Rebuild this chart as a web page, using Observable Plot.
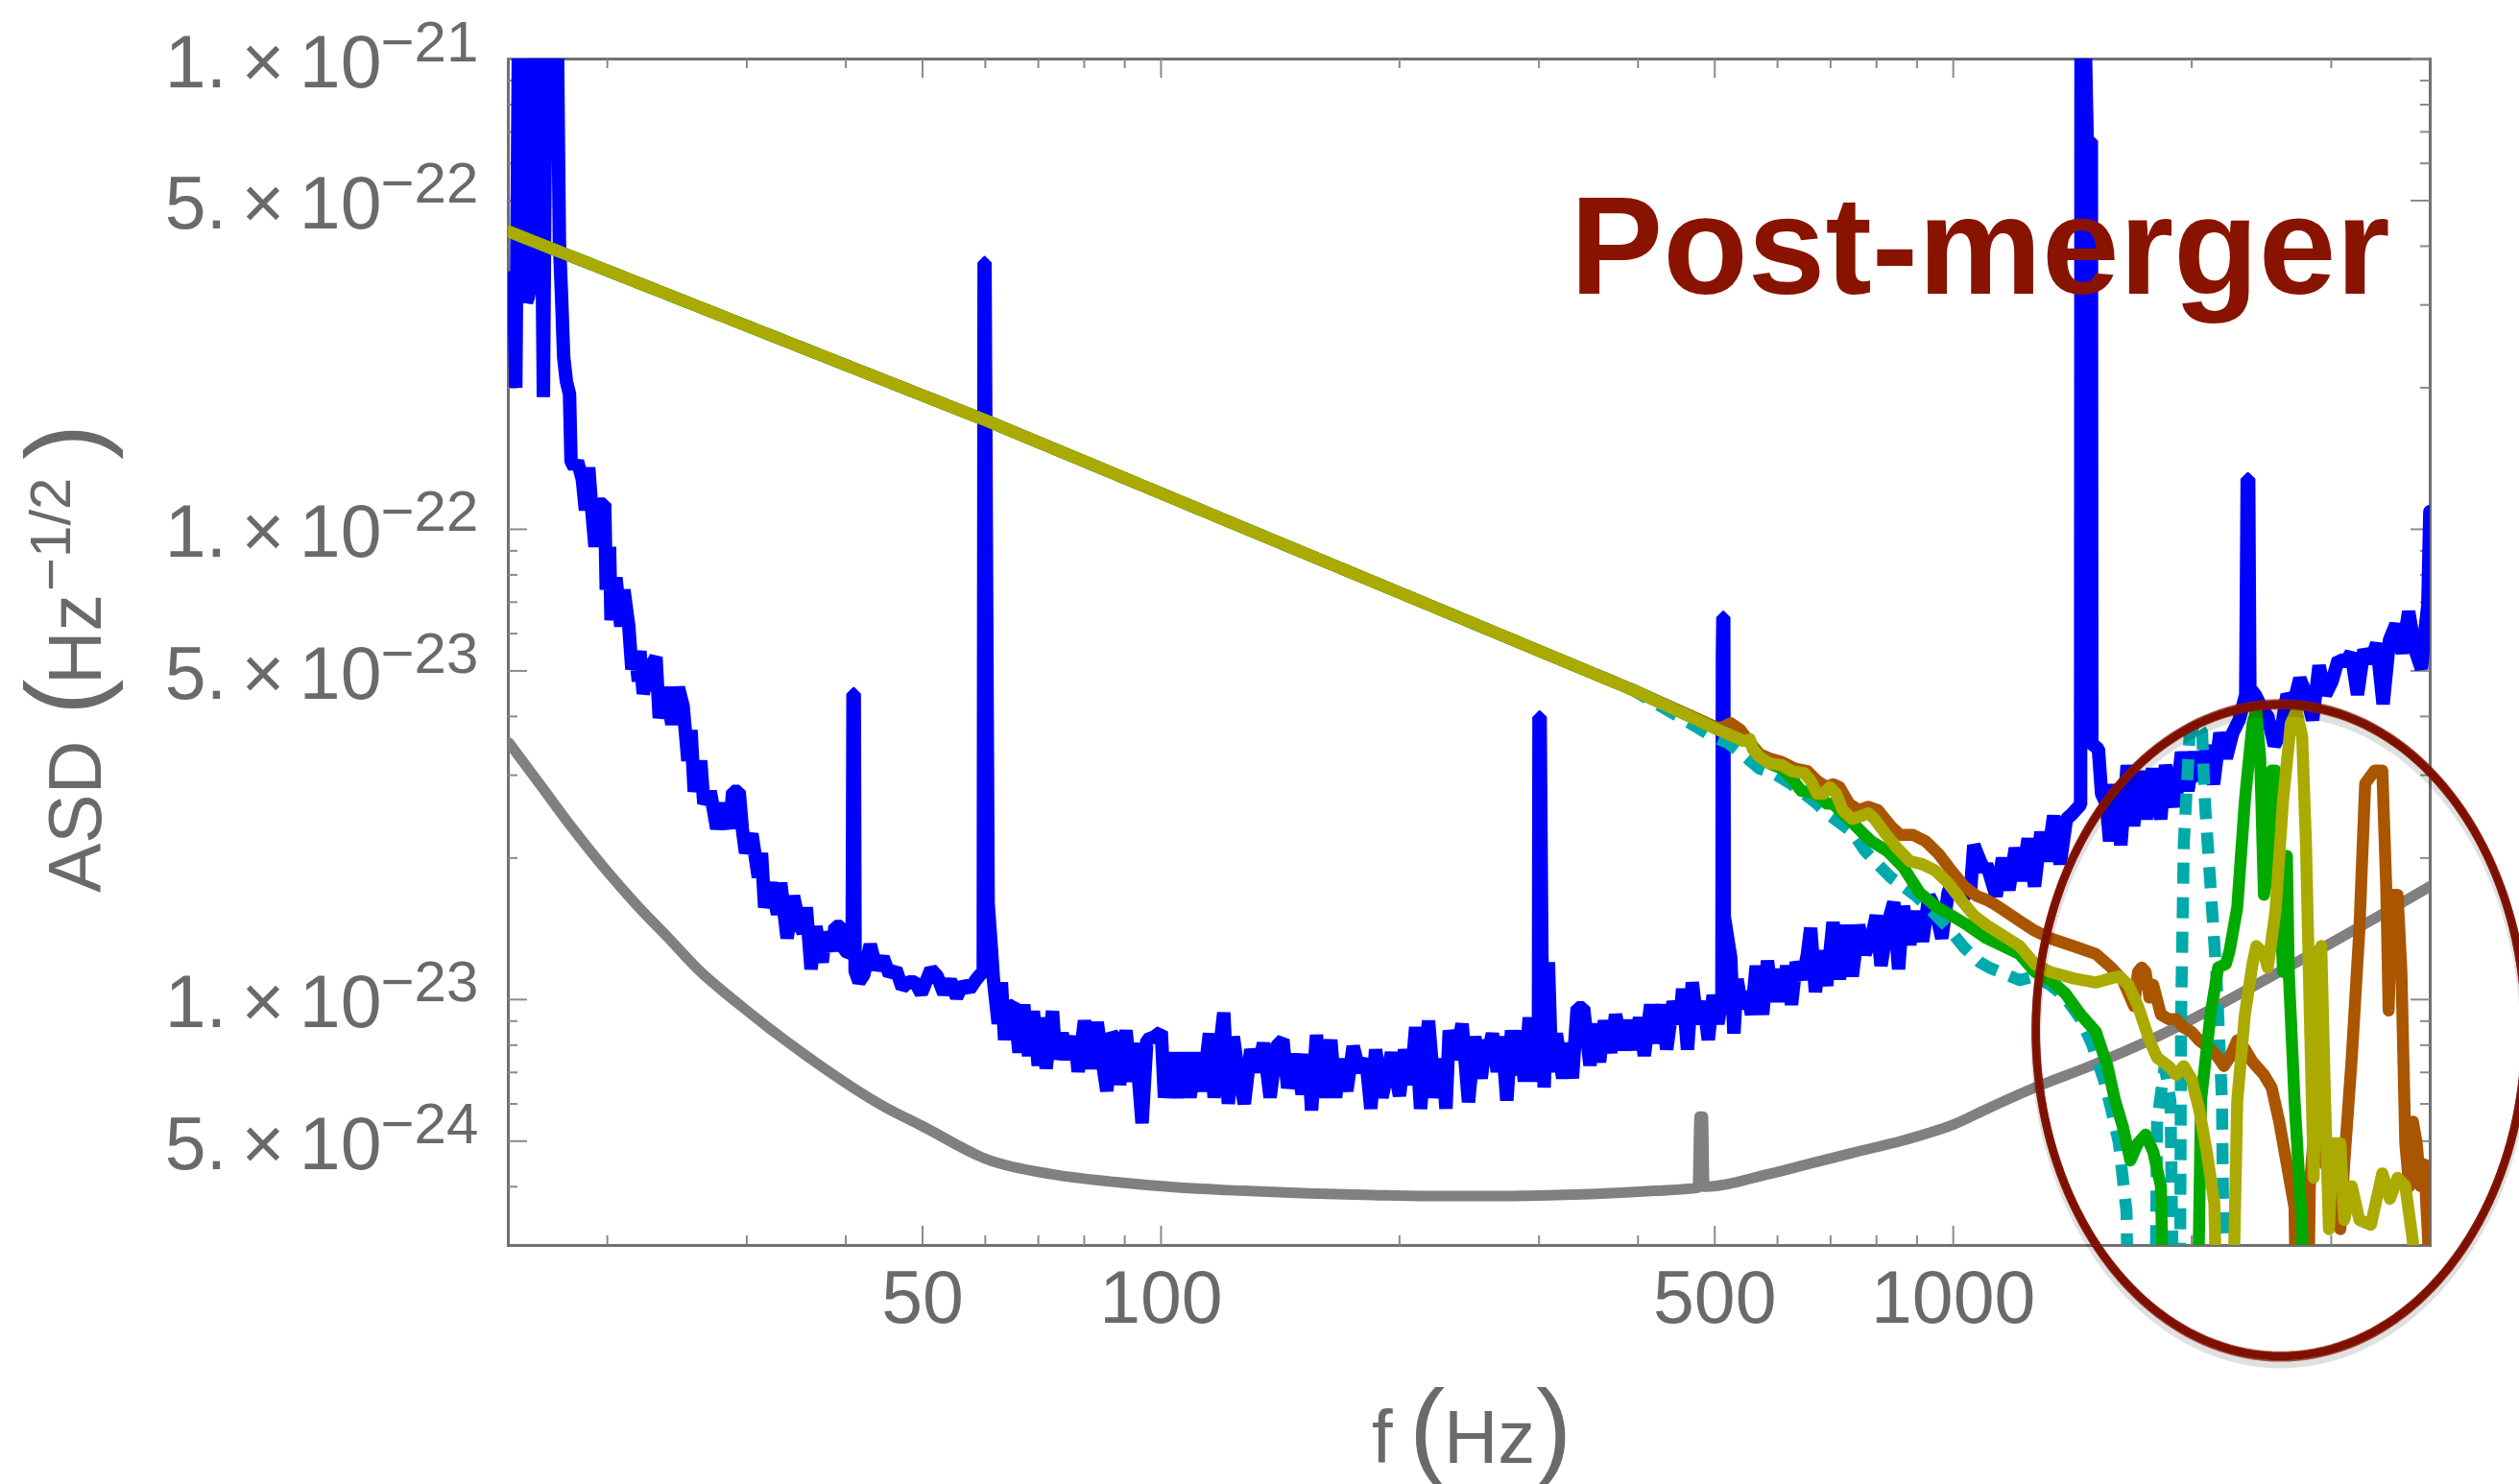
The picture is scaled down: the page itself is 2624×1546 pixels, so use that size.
<!DOCTYPE html>
<html>
<head>
<meta charset="utf-8">
<script src="https://cdn.jsdelivr.net/npm/d3@7"></script>
<script src="https://cdn.jsdelivr.net/npm/@observablehq/plot@0.6"></script>
<style>
  html, body { margin: 0; padding: 0; background: #ffffff; }
  #chart svg { display: block; }
</style>
</head>
<body>
<div id="chart"></div>
<script>
// ---------------- data (frequency in Hz, ASD in Hz^-1/2) ----------------
const xMajorTicks = [50, 100, 500, 1000];
const xMinorTicks = [20, 30, 40, 60, 70, 80, 90, 200, 300, 400, 600, 700, 800, 900, 2000, 3000];
const yMajorTicks = [1e-21, 5e-22, 1e-22, 5e-23, 1e-23, 5e-24];
const yMinorTicks = [9e-22, 8e-22, 7e-22, 6e-22, 4e-22, 3e-22, 2e-22,
                     9e-23, 8e-23, 7e-23, 6e-23, 4e-23, 3e-23, 2e-23,
                     9e-24, 8e-24, 7e-24, 6e-24, 4e-24];
const yTickMantissas = ["1.", "5.", "1.", "5.", "1.", "5."];
const yTickExponents = ["\u221221", "\u221222", "\u221222", "\u221223", "\u221223", "\u221224"];

// measured detector noise (blue)
const detectorNoise = [
[15.02,3.33e-22],[15.13,2.78e-22],[15.23,3.53e-22],[15.33,2.00e-22],[15.47,1.5e-21],[15.71,1.5e-21],[15.81,3.04e-22],[15.91,3.13e-22],[16.06,3.53e-22],[16.18,3.23e-22],[16.29,1.5e-21],[16.36,5.37e-22],[16.43,1.5e-21],[16.61,1.91e-22],[16.76,1.5e-21],[17.27,1.5e-21],[17.40,4.10e-22],[17.51,3.13e-22],[17.62,2.32e-22],[17.76,2.06e-22],[17.92,1.94e-22],[18.00,1.395e-22],[18.17,1.354e-22],[18.34,1.395e-22],[18.60,1.276e-22],[18.77,1.098e-22],[18.95,1.354e-22],[19.12,1.098e-22],[19.30,9.18e-23],[19.49,1.131e-22],[19.85,1.131e-22],[19.94,7.44e-23],[20.13,9.18e-23],[20.22,6.41e-23],[20.51,7.90e-23],[20.80,6.22e-23],[20.99,7.44e-23],[21.29,6.22e-23],[21.48,5.04e-23],[21.69,5.51e-23],[21.89,4.75e-23],[21.99,5.51e-23],[22.20,4.47e-23],[22.61,5.04e-23],[23.04,5.35e-23],[23.26,3.97e-23],[23.69,4.61e-23],[24.13,3.85e-23],[24.59,4.61e-23],[24.93,4.21e-23],[25.28,3.22e-23],[25.51,3.74e-23],[25.75,2.77e-23],[26.24,3.22e-23],[26.48,2.61e-23],[26.98,2.77e-23],[27.49,2.31e-23],[28.01,2.61e-23],[28.53,2.31e-23],[28.80,2.77e-23],[29.34,2.77e-23],[29.61,2.31e-23],[29.89,2.05e-23],[30.45,2.25e-23],[31.02,1.82e-23],[31.31,2.05e-23],[31.60,1.57e-23],[32.19,1.77e-23],[32.80,1.52e-23],[33.11,1.77e-23],[33.73,1.35e-23],[34.36,1.66e-23],[35.01,1.43e-23],[35.33,1.39e-23],[35.67,1.57e-23],[36.16,1.16e-23],[36.67,1.43e-23],[37.36,1.20e-23],[37.71,1.39e-23],[38.41,1.27e-23],[38.77,1.43e-23],[39.50,1.43e-23],[39.86,1.27e-23],[40.75,1.25e-23],[40.85,4.47e-23],[41.0,4.47e-23],[41.1,1.15e-23],[41.57,1.09e-23],[42.16,1.13e-23],[42.95,1.31e-23],[43.75,1.16e-23],[44.58,1.23e-23],[45.41,1.13e-23],[46.27,1.16e-23],[47.13,1.06e-23],[48.02,1.09e-23],[48.91,1.09e-23],[49.83,1.03e-23],[51.24,1.16e-23],[52.20,1.12e-23],[53.19,1.03e-23],[54.2,1.1e-23],[55.20,1.01e-23],[56.2,1.08e-23],[57.29,1.05e-23],[58.36,1.10e-23],[59.65,1.15e-23],[59.8,3.69e-22],[59.95,3.69e-22],[60.5,1.6e-23],[61.1,1.27e-23],[61.43,1.105e-23],
[62.30,8.88e-24],[62.88,1.088e-23],[63.47,8.21e-24],[64.06,9.60e-24],[65.26,9.75e-24],[66.18,7.71e-24],[67.10,9.75e-24],[68.05,7.59e-24],[69.00,9.45e-24],[69.98,7.24e-24],[70.96,9.16e-24],[71.61,7.13e-24],[72.95,9.45e-24],[73.64,7.47e-24],[75.02,8.47e-24],[76.43,7.47e-24],[77.86,8.34e-24],[78.59,7.02e-24],[80.05,9.02e-24],[81.55,7.13e-24],[83.08,8.95e-24],[84.25,7.47e-24],[85.43,6.39e-24],[86.63,8.47e-24],[87.85,8.21e-24],[88.66,6.59e-24],[90.33,8.60e-24],[91.62,6.70e-24],[92.90,8.08e-24],[94.64,5.46e-24],[95.98,8.21e-24],[98.22,8.34e-24],[100.07,8.54e-24],[101.0,6.19e-24],[102.9,7.71e-24],[104.8,6.19e-24],[106.8,7.71e-24],[108.8,6.19e-24],[110.8,7.71e-24],[112.9,6.39e-24],[115.1,8.47e-24],[116.7,6.19e-24],[120.0,9.38e-24],[121.6,6.00e-24],[123.4,8.34e-24],[125.1,7.02e-24],[127.4,6.00e-24],[129.8,7.83e-24],[132.3,7.02e-24],[134.7,8.08e-24],[137.3,6.19e-24],[139.9,7.96e-24],[142.5,8.21e-24],[144.5,6.49e-24],[147.9,7.65e-24],[150.7,6.29e-24],[153.5,7.65e-24],[154.9,5.81e-24],[157.1,8.41e-24],[160.0,6.19e-24],[163.8,8.21e-24],[166.1,6.19e-24],[168.4,7.47e-24],[171.6,6.39e-24],[174.8,7.96e-24],[178.1,7.02e-24],[181.4,7.47e-24],[184.0,5.86e-24],[186.6,7.83e-24],[190.1,6.19e-24],[195.4,7.71e-24],[200.0,6.24e-24],[202.9,7.83e-24],[206.7,6.59e-24],[209.6,8.74e-24],[212.6,5.86e-24],[217.6,9.02e-24],[221.6,6.19e-24],[226.8,7.47e-24],[228.9,5.86e-24],[231.1,8.60e-24],[235.4,7.47e-24],[239.9,8.88e-24],[244.4,6.05e-24],[248.9,8.34e-24],[253.6,6.80e-24],[257.1,8.21e-24],
[258.4,7.59e-24],[262.0,8.47e-24],[265.7,7.02e-24],[269.4,8.34e-24],[273.2,6.10e-24],[277.0,8.60e-24],[280.9,6.91e-24],[283.5,8.60e-24],[287.5,6.70e-24],[291.6,9.16e-24],[295.6,6.70e-24],[299.5,8.0e-24],[300.0,3.99e-23],[301.0,3.99e-23],[302.5,1.25e-23],[304.5,6.5e-24],[308.3,1.20e-23],[311.2,7.02e-24],[315.5,8.47e-24],[321.4,6.80e-24],[326.0,8.08e-24],[330.6,6.80e-24],[335.2,9.60e-24],[341.5,9.60e-24],[347.9,7.24e-24],[352.8,8.88e-24],[357.7,7.36e-24],[362.8,9.02e-24],[369.5,7.71e-24],[374.8,9.30e-24],[381.8,7.83e-24],[388.9,9.02e-24],[396.2,7.83e-24],[401.8,9.16e-24],[407.4,7.59e-24],[415.0,9.75e-24],[420.9,8.08e-24],[428.8,9.75e-24],[434.8,7.83e-24],[443.0,9.90e-24],[451.3,8.88e-24],[455.5,1.054e-23],[461.9,7.83e-24],[468.4,1.088e-23],[475.0,8.88e-24],[483.9,9.90e-24],[490.7,8.21e-24],[497.6,1.022e-23],[504.6,8.88e-24],[510.5,1.0e-23],[511.3,5.4e-23],[512.0,6.5e-23],[513.2,6.5e-23],[514.0,1.5e-23],[523.7,1.23e-23],[528.6,8.47e-24],[533.5,1.105e-23],[541.0,9.60e-24],[548.6,1.038e-23],[556.4,9.30e-24],[564.1,1.18e-23],[574.7,9.30e-24],[582.8,1.21e-23],[591.0,9.90e-24],[599.3,1.16e-23],[607.6,9.90e-24],[616.2,1.18e-23],[624.9,9.75e-24],[633.6,1.20e-23],[645.5,1.105e-23],[654.6,1.25e-23],[660.7,1.42e-23],[669.9,1.038e-23],[679.4,1.27e-23],[692.2,1.071e-23],[705.1,1.46e-23],[718.4,1.105e-23],[731.9,1.44e-23],[745.6,1.12e-23],[759.6,1.44e-23],[773.9,1.25e-23],[788.4,1.35e-23],[799.5,1.51e-23],[810.7,1.18e-23],[825.9,1.44e-23],[841.4,1.61e-23],[853.1,1.16e-23],[865.1,1.58e-23],[881.3,1.31e-23],[897.9,1.54e-23],[914.7,1.33e-23],[931.9,1.66e-23],[949.4,1.56e-23],[967.2,1.35e-23],[985.4,1.69e-23],[1003.8,1.82e-23],[1032.3,1.66e-23],[1051.7,1.71e-23],[1061.5,2.13e-23],[1081.4,1.97e-23],[1096.6,1.88e-23],
[1101.6,1.94e-23],[1132.8,1.66e-23],[1154.0,2.00e-23],[1175.7,1.71e-23],[1197.7,2.10e-23],[1220.2,1.79e-23],[1243.1,2.20e-23],[1266.5,1.74e-23],[1290.1,2.27e-23],[1314.3,1.97e-23],[1338.9,2.46e-23],[1364.2,1.94e-23],[1389.6,2.42e-23],[1415.7,2.49e-23],[1448,2.6e-23],[1450,1.5e-21],[1462,1.5e-21],[1476,6.7e-22],[1494,6.7e-22],[1496,3.5e-23],[1524.9,3.41e-23],[1539.0,2.74e-23],[1560.7,2.61e-23],[1575.2,2.17e-23],[1597.4,2.87e-23],[1627.4,2.13e-23],[1657.9,3.15e-23],[1689.0,2.34e-23],[1720.7,3.06e-23],[1753.1,2.42e-23],[1785.6,3.10e-23],[1827.7,2.42e-23],[1853.5,3.15e-23],[1905.9,2.57e-23],[1941.7,3.36e-23],[1978.3,2.78e-23],[2015.1,3.36e-23],[2053.0,2.92e-23],[2091.7,3.47e-23],[2131.1,2.87e-23],[2170.7,3.69e-23],[2211.5,3.26e-23],[2253.1,3.69e-23],[2295.5,3.93e-23],[2340,4.45e-23],[2350,1.28e-22],[2360,1.28e-22],[2368,4.6e-23],[2404.4,4.45e-23],[2449.6,4.18e-23],[2495.7,3.99e-23],[2542.7,3.47e-23],[2590.0,3.69e-23],[2638.6,4.45e-23],[2688.3,4.25e-23],[2738.8,4.82e-23],[2789.8,4.45e-23],[2842.2,3.93e-23],[2895.7,5.13e-23],[2951.2,4.45e-23],[3006.0,4.74e-23],[3062.5,5.29e-23],[3120.2,5.21e-23],[3178.9,5.45e-23],[3238.0,4.45e-23],[3299.0,5.54e-23],[3361.1,5.21e-23],[3424.4,5.72e-23],[3488.1,4.25e-23],[3553.6,5.81e-23],[3620.5,6.28e-23],[3688.6,5.45e-23],[3757.1,6.69e-23],[3827.6,5.54e-23],[3899.7,5.05e-23],[3935.8,5.99e-23],[3972.9,6.90e-23],[3996,1.09e-22]
];

// design sensitivity (gray)
const designSensitivity = [
[15.02,3.52e-23],[16.49,2.85e-23],[18.09,2.31e-23],[19.85,1.90e-23],[21.78,1.59e-23],[23.91,1.35e-23],[26.24,1.145e-23],[28.53,1.015e-23],[35.5,7.64e-24],[44.8,5.91e-24],[50.0,5.38e-24],[60.58,4.56e-24],[72.95,4.25e-24],[87.85,4.09e-24],[105.8,3.98e-24],[127.4,3.92e-24],[153.5,3.87e-24],[184.9,3.84e-24],[222.6,3.82e-24],[258.3,3.82e-24],[300,3.83e-24],[365,3.87e-24],[420,3.92e-24],[476,3.98e-24],[478.5,5.64e-24],[483,5.64e-24],[485,4.0e-24],[583,4.25e-24],[660,4.48e-24],[745.6,4.72e-24],[865,5.02e-24],[908.7,5.14e-24],[1000,5.42e-24],[1101.6,5.85e-24],[1267.7,6.50e-24],[1500,7.26e-24],[1768.5,8.19e-24],[2100,9.47e-24],[2467,1.098e-23],[3000,1.319e-23],[3442,1.504e-23],[4000,1.742e-23]
];

// post-merger waveform spectra (four models); shared inspiral part first
const inspiralPart = [[15,4.30e-22],[60.6,1.695e-22],[393.6,4.56e-23]];

const spectrumTeal = [
[472.8,3.81e-23],[495.3,3.63e-23],[518.8,3.52e-23],[543.4,3.31e-23],[569.3,3.10e-23],[596.6,3.01e-23],[624.9,2.87e-23],[648.6,2.74e-23],[673.1,2.61e-23],[692.2,2.49e-23],[718.4,2.38e-23],[745.6,2.27e-23],[773.9,2.07e-23],[803.2,1.94e-23],[833.7,1.82e-23],[865.1,1.74e-23],[897.9,1.66e-23],[940.6,1.54e-23],[985.4,1.42e-23],[1032.3,1.29e-23],[1081.4,1.20e-23],[1109.8,1.17e-23],[1212.5,1.10e-23],[1267.7,1.12e-23],[1325.3,1.075e-23],[1385.5,1.01e-23],[1448.3,9.09e-24],[1497.4,8.02e-24],[1548.0,6.78e-24],[1582.7,5.85e-24],[1618.4,4.95e-24],[1636.5,4.18e-24],[1654.7,3.54e-24],[1673.2,1e-24],[1792.4,1e-24],[1808.5,5.50e-24],[1849.1,7.22e-24],[1880.1,6.10e-24],[1907.5,1e-24],[1928.7,1e-24],[1939.4,9.29e-24],[1954.6,2.15e-23],[1987.3,3.63e-23],[2020.9,3.90e-23],[2061.4,3.70e-23],[2077.6,2.65e-23],[2112.4,1.74e-23],[2147.9,1.145e-23],[2183.9,6.10e-24],[2208.2,1e-24],[4000,1e-24]
];

const spectrumBrown = [
[504.6,3.78e-23],[514.0,3.81e-23],[523.7,3.87e-23],[538.4,3.75e-23],[553.6,3.52e-23],[569.3,3.33e-23],[585.6,3.26e-23],[607.6,3.20e-23],[630.8,3.10e-23],[654.6,3.06e-23],[673.1,2.92e-23],[692.2,2.83e-23],[705.1,2.87e-23],[718.4,2.83e-23],[738.7,2.61e-23],[759.6,2.53e-23],[781.1,2.57e-23],[803.2,2.53e-23],[833.7,2.34e-23],[857.2,2.24e-23],[889.6,2.24e-23],[923.4,2.17e-23],[958.4,2.04e-23],[994.5,1.88e-23],[1032.3,1.74e-23],[1071.2,1.66e-23],[1101.6,1.63e-23],[1134.5,1.585e-23],[1212.5,1.47e-23],[1267.7,1.40e-23],[1325.3,1.35e-23],[1416.5,1.30e-23],[1514.0,1.25e-23],[1582.7,1.17e-23],[1636.5,1.10e-23],[1691.7,9.68e-24],[1710.8,1.145e-23],[1729.9,1.17e-23],[1749.2,1.145e-23],[1768.5,1.01e-23],[1788.2,1.075e-23],[1828.8,9.29e-24],[1869.7,9.09e-24],[1911.9,9.09e-24],[1954.6,8.72e-24],[1998.3,8.54e-24],[2043.4,8.19e-24],[2112.4,7.85e-24],[2159.8,7.53e-24],[2196.0,7.22e-24],[2232.7,7.53e-24],[2283.0,8.19e-24],[2334.2,7.85e-24],[2386.5,7.37e-24],[2467.2,6.92e-24],[2522.9,6.50e-24],[2579.4,5.50e-24],[2637.1,4.46e-24],[2696.7,3.61e-24],[2726.7,1e-24],[2787.6,1e-24],[2819.3,4.01e-24],[2882.4,6.50e-24],[2946.8,4.46e-24],[3013.3,4.46e-24],[3080.7,3.25e-24],[3115.0,4.46e-24],[3184.6,7.53e-24],[3255.9,1.41e-23],[3311.3,2.88e-23],[3404.3,3.07e-23],[3480.4,3.07e-23],[3520.0,1.74e-23],[3545,9.48e-24],[3578.8,1.67e-23],[3638.6,1.67e-23],[3679.1,1.145e-23],[3720.8,4.95e-24],[3762.2,4.01e-24],[3804.0,5.50e-24],[3846.2,4.95e-24],[3889.0,4.01e-24],[3932.2,4.46e-24],[3976.8,3.06e-24],[4000,1e-24]
];

const spectrumGreen = [
[504.6,3.75e-23],[533.5,3.60e-23],[543.4,3.55e-23],[553.6,3.57e-23],[558.8,3.41e-23],[569.3,3.28e-23],[585.6,3.18e-23],[607.6,3.10e-23],[624.9,2.96e-23],[642.6,2.78e-23],[660.7,2.76e-23],[679.4,2.70e-23],[692.2,2.61e-23],[705.1,2.61e-23],[725.1,2.49e-23],[745.6,2.38e-23],[766.7,2.27e-23],[788.4,2.17e-23],[825.9,2.07e-23],[865.1,1.91e-23],[906.4,1.69e-23],[949.4,1.58e-23],[994.5,1.51e-23],[1042.0,1.44e-23],[1101.6,1.35e-23],[1212.5,1.25e-23],[1267.7,1.145e-23],[1325.3,1.10e-23],[1385.5,1.03e-23],[1448.3,9.29e-24],[1514.0,8.54e-24],[1565.3,7.22e-24],[1600.5,6.10e-24],[1636.5,5.38e-24],[1673.2,4.55e-24],[1710.8,4.95e-24],[1749.2,5.16e-24],[1788.2,4.75e-24],[1828.8,4.01e-24],[1859.4,1e-24],[2020.9,1e-24],[2054.8,6.10e-24],[2112.4,9.29e-24],[2159.8,1.17e-23],[2208.2,1.19e-23],[2232.7,1.27e-23],[2283.0,1.57e-23],[2334.2,2.65e-23],[2386.5,3.86e-23],[2413.3,4.11e-23],[2440.1,3.27e-23],[2467.2,1.67e-23],[2494.7,1.85e-23],[2522.9,3.07e-23],[2551.0,3.07e-23],[2579.4,1.74e-23],[2608.1,1.145e-23],[2637.1,2.02e-23],[2651.7,1.145e-23],[2696.7,6.10e-24],[2757.0,3.25e-24],[2787.6,1e-24],[4000,1e-24]
];

const spectrumOlive = [
[504.6,3.75e-23],[533.5,3.60e-23],[543.4,3.55e-23],[553.6,3.57e-23],[558.8,3.41e-23],[569.3,3.28e-23],[585.6,3.18e-23],[607.6,3.15e-23],[624.9,3.06e-23],[648.6,3.03e-23],[660.7,2.92e-23],[673.1,2.74e-23],[685.7,2.74e-23],[698.6,2.83e-23],[711.7,2.74e-23],[725.1,2.53e-23],[745.6,2.42e-23],[766.7,2.46e-23],[781.1,2.49e-23],[795.8,2.42e-23],[818.3,2.27e-23],[849.3,2.10e-23],[881.3,1.97e-23],[914.7,1.94e-23],[949.4,1.88e-23],[985.4,1.77e-23],[1022.8,1.63e-23],[1061.5,1.51e-23],[1101.6,1.44e-23],[1212.5,1.30e-23],[1267.7,1.19e-23],[1325.3,1.145e-23],[1416.5,1.11e-23],[1514.0,1.087e-23],[1582.7,1.11e-23],[1618.4,1.12e-23],[1663.9,1.075e-23],[1710.8,9.68e-24],[1768.5,8.19e-24],[1808.5,7.53e-24],[1869.7,7.22e-24],[1911.9,6.92e-24],[1954.6,7.22e-24],[1998.3,6.78e-24],[2043.4,5.85e-24],[2089.1,4.75e-24],[2135.9,3.69e-24],[2171,1e-24],[2232.7,1e-24],[2283.0,6.10e-24],[2334.2,9.29e-24],[2386.5,1.19e-23],[2413.3,1.30e-23],[2467.2,1.25e-23],[2494.7,1.17e-23],[2551.0,1.54e-23],[2608.1,2.65e-23],[2667.1,3.86e-23],[2711.7,4.11e-23],[2757.0,3.63e-23],[2787.6,2.15e-23],[2819.3,9.29e-24],[2850.7,4.18e-24],[2882.4,1.145e-23],[2914.4,1.30e-23],[2946.8,6.10e-24],[2980.2,3.25e-24],[3013.3,4.95e-24],[3080.7,4.95e-24],[3115.0,3.40e-24],[3184.6,4.01e-24],[3255.9,3.40e-24],[3366.9,3.32e-24],[3480.4,4.27e-24],[3559.1,3.77e-24],[3638.6,4.18e-24],[3720.8,4.01e-24],[3804.0,3.06e-24],[3889.0,1e-24],[4000,1e-24]
];

// annotation
const annotationText = "Post-merger";
const annotationAnchor = {hz: 328.4, asd: 3.175e-22};
const circleCenter = {hz: 2590, asd: 8.6e-24};
const circleHalfWidthDecades = 0.309;
const circleHalfHeightDecades = 0.693;

// ---------------- layout & styles ----------------
const W = 2624, H = 1546;
const ML = 529, MR = 93, MT = 61, MB = 249;
const FW = W - ML - MR, FH = H - MT - MB;
const FONT = "'Liberation Sans', Arial, Helvetica, sans-serif";
const TEXT_GRAY = "#6a6a6a";
const FRAME_GRAY = "#707070";
const TICK_GRAY = "#8a8a8a";

const xy = {x: d => d[0], y: d => d[1]};
const withInspiral = s => inspiralPart.concat(s);

function ellipseRing(k) {
  return d3.range(0, 360, 2).map(deg => {
    const t = deg * Math.PI / 180;
    return [circleCenter.hz * Math.pow(10, circleHalfWidthDecades * k * Math.cos(t)),
            circleCenter.asd * Math.pow(10, circleHalfHeightDecades * k * Math.sin(t))];
  });
}

const yLabelRows = yMajorTicks.map((v, i) => ({v, m: yTickMantissas[i] + "\u2009\u00d7\u200910", e: yTickExponents[i]}));

const chart = Plot.plot({
  width: W, height: H,
  marginLeft: ML, marginRight: MR, marginTop: MT, marginBottom: MB,
  style: {fontFamily: FONT, background: "#ffffff", overflow: "visible"},
  x: {type: "log", domain: [15, 4000], axis: null},
  y: {type: "log", domain: [3e-24, 1e-21], axis: null},
  marks: [
    Plot.frame({stroke: FRAME_GRAY, strokeWidth: 3}),
    // inward frame ticks
    Plot.ruleY(yMajorTicks, {y: d => d, insetRight: FW - 20, stroke: TICK_GRAY, strokeWidth: 2}),
    Plot.ruleY(yMajorTicks, {y: d => d, insetLeft: FW - 20, stroke: TICK_GRAY, strokeWidth: 2}),
    Plot.ruleY(yMinorTicks, {y: d => d, insetRight: FW - 10, stroke: TICK_GRAY, strokeWidth: 2}),
    Plot.ruleY(yMinorTicks, {y: d => d, insetLeft: FW - 10, stroke: TICK_GRAY, strokeWidth: 2}),
    Plot.ruleX(xMajorTicks, {x: d => d, insetTop: FH - 20, stroke: TICK_GRAY, strokeWidth: 2}),
    Plot.ruleX(xMajorTicks, {x: d => d, insetBottom: FH - 20, stroke: TICK_GRAY, strokeWidth: 2}),
    Plot.ruleX(xMinorTicks, {x: d => d, insetTop: FH - 10, stroke: TICK_GRAY, strokeWidth: 2}),
    Plot.ruleX(xMinorTicks, {x: d => d, insetBottom: FH - 10, stroke: TICK_GRAY, strokeWidth: 2}),

    // curves
    Plot.line(designSensitivity, {...xy, stroke: "#808080", strokeWidth: 11, curve: "monotone-x", clip: true}),
    Plot.line(detectorNoise, {...xy, stroke: "#0000ff", strokeWidth: 14, strokeLinejoin: "bevel", clip: true}),
    Plot.line(withInspiral(spectrumTeal), {...xy, stroke: "#00aaaa", strokeWidth: 12.5, strokeDasharray: "22,14", strokeLinecap: "butt", clip: true}),
    Plot.line(withInspiral(spectrumBrown), {...xy, stroke: "#aa5500", strokeWidth: 12.5, clip: true}),
    Plot.line(withInspiral(spectrumGreen), {...xy, stroke: "#00aa00", strokeWidth: 12.5, clip: true}),
    Plot.line(withInspiral(spectrumOlive), {...xy, stroke: "#aaaa00", strokeWidth: 12.5, clip: true}),

    // annotation text
    Plot.text([annotationAnchor], {x: "hz", y: "asd", text: () => annotationText, textAnchor: "start", lineAnchor: "bottom",
      fontSize: 145, fontWeight: "bold", fill: "#881400"}),

    // tick labels
    Plot.text(xMajorTicks, {x: d => d, text: d => String(d), frameAnchor: "bottom", dy: 80, lineAnchor: "bottom",
      fontSize: 77, fill: TEXT_GRAY}),
    Plot.text(yLabelRows, {y: "v", text: "m", frameAnchor: "left", textAnchor: "end", dx: -132, dy: 29, lineAnchor: "bottom",
      fontSize: 77, fill: TEXT_GRAY}),
    Plot.text(yLabelRows, {y: "v", text: "e", frameAnchor: "left", textAnchor: "start", dx: -133, dy: 2, lineAnchor: "bottom",
      fontSize: 60, fill: TEXT_GRAY}),

    // hand-drawn circle around the post-merger region
    Plot.line(ellipseRing(1), {...xy, curve: "linear-closed", stroke: "rgba(0,0,0,0.12)", strokeWidth: 11, dy: 7, clip: false}),
    Plot.line(ellipseRing(1), {...xy, curve: "linear-closed", stroke: "#7e1000", strokeWidth: 8.5, clip: false}),
    Plot.line(ellipseRing(1.014), {...xy, curve: "linear-closed", stroke: "#8a1a08", strokeWidth: 1.8, strokeOpacity: 0.75, clip: false}),
    Plot.line(ellipseRing(0.987), {...xy, curve: "linear-closed", stroke: "#8a1a08", strokeWidth: 1.6, strokeOpacity: 0.7, clip: false})
  ]
});

// axis titles (with sized parentheses and superscript)
const svg = d3.select(chart);
const xTitle = svg.append("text").attr("fill", TEXT_GRAY).attr("font-family", FONT).attr("text-anchor", "start");
xTitle.append("tspan").attr("x", 1429).attr("y", 1524).attr("font-size", 78).text("f");
xTitle.append("tspan").attr("x", 1468).attr("y", 1526).attr("font-size", 112).text("(");
xTitle.append("tspan").attr("x", 1504).attr("y", 1524).attr("font-size", 78).text("Hz");
xTitle.append("tspan").attr("x", 1600).attr("y", 1526).attr("font-size", 112).text(")");

const yTitle = svg.append("text").attr("fill", TEXT_GRAY).attr("font-family", FONT).attr("text-anchor", "start")
  .attr("transform", "translate(105,930) rotate(-90)");
yTitle.append("tspan").attr("x", 0).attr("y", 0).attr("font-size", 77).text("ASD");
yTitle.append("tspan").attr("x", 185).attr("y", 0).attr("font-size", 112).text("(");
yTitle.append("tspan").attr("x", 217).attr("y", 0).attr("font-size", 77).text("Hz");
yTitle.append("tspan").attr("x", 314).attr("y", -32).attr("font-size", 60).text("\u22121/2");
yTitle.append("tspan").attr("x", 451).attr("y", 0).attr("font-size", 112).text(")");

document.getElementById("chart").appendChild(chart);
</script>
</body>
</html>
